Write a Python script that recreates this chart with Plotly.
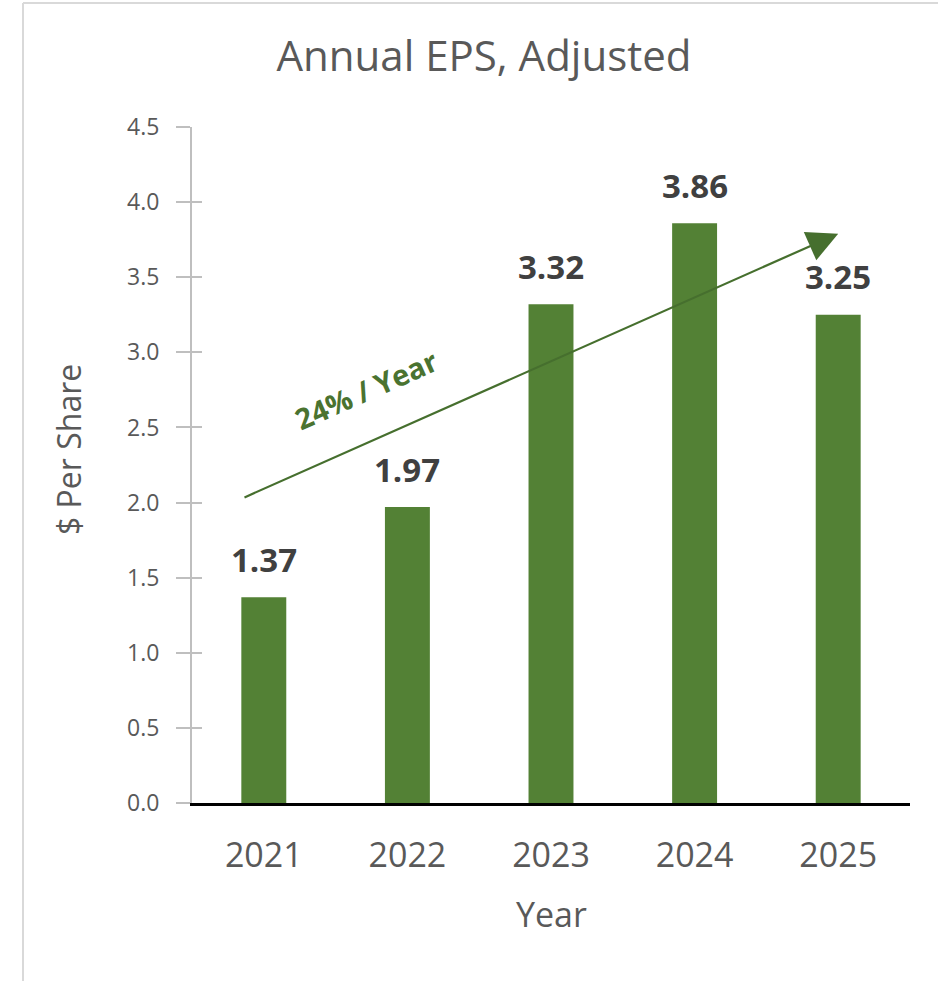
import plotly.graph_objects as go

# ---- data ----
years = ["2021", "2022", "2023", "2024", "2025"]
eps = [1.37, 1.97, 3.32, 3.86, 3.25]
eps_labels = ["1.37", "1.97", "3.32", "3.86", "3.25"]
y_ticks = [0.0, 0.5, 1.0, 1.5, 2.0, 2.5, 3.0, 3.5, 4.0, 4.5]
y_tick_text = ["0.0", "0.5", "1.0", "1.5", "2.0", "2.5", "3.0", "3.5", "4.0", "4.5"]
trend_label = "24% / Year"
trend_start = [-0.145, 2.03]
trend_end = [4.0, 3.79]
trend_label_pos = [0.71, 2.75]

# ---- layout constants (pixels) ----
W, H = 938, 981
ML, MR, MT, MB = 192, 28, 127, 178
PW, PH = W - ML - MR, H - MT - MB
FONT = "Open Sans"
BAR = "#538135"
GRAY_TXT = "#595959"
AX_GRAY = "#bfbfbf"


def px_x(p):
    return (p - ML) / PW


def px_y(p):
    return (H - MB - p) / PH


fig = go.Figure()
fig.add_trace(go.Bar(x=years, y=eps, width=0.313, marker=dict(color=BAR, line=dict(width=0)),
                     hoverinfo="x+y", showlegend=False))

annotations = []
for i, (v, lab) in enumerate(zip(eps, eps_labels)):
    annotations.append(dict(x=i, y=v, xref="x", yref="y", text=lab, showarrow=False, yshift=38,
                            yanchor="middle",
                            font=dict(family=FONT, size=33, color="#404040", weight="bold")))

# trend arrow
annotations.append(dict(x=trend_end[0], y=trend_end[1], ax=trend_start[0], ay=trend_start[1],
                        xref="x", yref="y", axref="x", ayref="y", text="", showarrow=True,
                        arrowhead=2, arrowsize=2.8, arrowwidth=2.2, arrowcolor="#466f2e"))
annotations.append(dict(x=trend_label_pos[0], y=trend_label_pos[1], text=trend_label, showarrow=False,
                        textangle=-24, font=dict(family=FONT, size=29, color="#4a7330", weight="bold")))

# axis titles
annotations.append(dict(xref="paper", yref="paper", x=px_x(68), y=px_y(450), text="$ Per Share",
                        textangle=-90, showarrow=False, xanchor="center", yanchor="middle",
                        font=dict(family=FONT, size=32, color=GRAY_TXT)))
annotations.append(dict(xref="paper", yref="paper", x=px_x(551), y=px_y(914), text="Year",
                        showarrow=False, xanchor="center", yanchor="middle",
                        font=dict(family=FONT, size=34, color=GRAY_TXT)))

shapes = [
    dict(type="line", xref="paper", yref="paper", x0=px_x(23), x1=px_x(23), y0=px_y(3), y1=px_y(H + 5),
         line=dict(color="#d9d9d9", width=2)),
    dict(type="line", xref="paper", yref="paper", x0=px_x(23), x1=px_x(W + 5), y0=px_y(3), y1=px_y(3),
         line=dict(color="#d9d9d9", width=2)),
]

fig.update_layout(
    width=W, height=H,
    margin=dict(l=ML, r=MR, t=MT, b=MB, autoexpand=False),
    paper_bgcolor="white", plot_bgcolor="white",
    title=dict(text="Annual EPS, Adjusted", x=484 / W, xanchor="center", xref="container",
               y=1 - 56 / H, yanchor="middle", yref="container",
               font=dict(family=FONT, size=42, color=GRAY_TXT)),
    xaxis=dict(type="category", range=[-0.5, 4.5], showline=True, linecolor="black", linewidth=3,
               ticks="", showgrid=False, zeroline=False, ticklabelstandoff=20,
               tickfont=dict(family=FONT, size=34, color=GRAY_TXT)),
    yaxis=dict(range=[0, 4.5], tickvals=y_ticks, ticktext=y_tick_text, showline=True, linecolor=AX_GRAY,
               linewidth=2, ticks="outside", ticklen=14, tickwidth=2, tickcolor=AX_GRAY,
               showgrid=False, zeroline=False, ticklabelstandoff=12,
               tickfont=dict(family=FONT, size=23, color=GRAY_TXT)),
    yaxis2=dict(range=[0, 4.5], overlaying="y", side="left", tickvals=y_ticks, showticklabels=False,
                ticks="inside", ticklen=10, tickwidth=2, tickcolor=AX_GRAY, showline=False,
                showgrid=False, zeroline=False),
    annotations=annotations,
    shapes=shapes,
    bargap=0.5,
    showlegend=False,
)

# invisible trace to activate yaxis2
fig.add_trace(go.Scatter(x=[years[0]], y=[0], yaxis="y2", mode="markers", marker=dict(opacity=0),
                         hoverinfo="skip", showlegend=False))

fig.write_html("out.html", config={"displayModeBar": False},
               post_script="document.body.style.margin='0';document.body.style.padding='0';")
